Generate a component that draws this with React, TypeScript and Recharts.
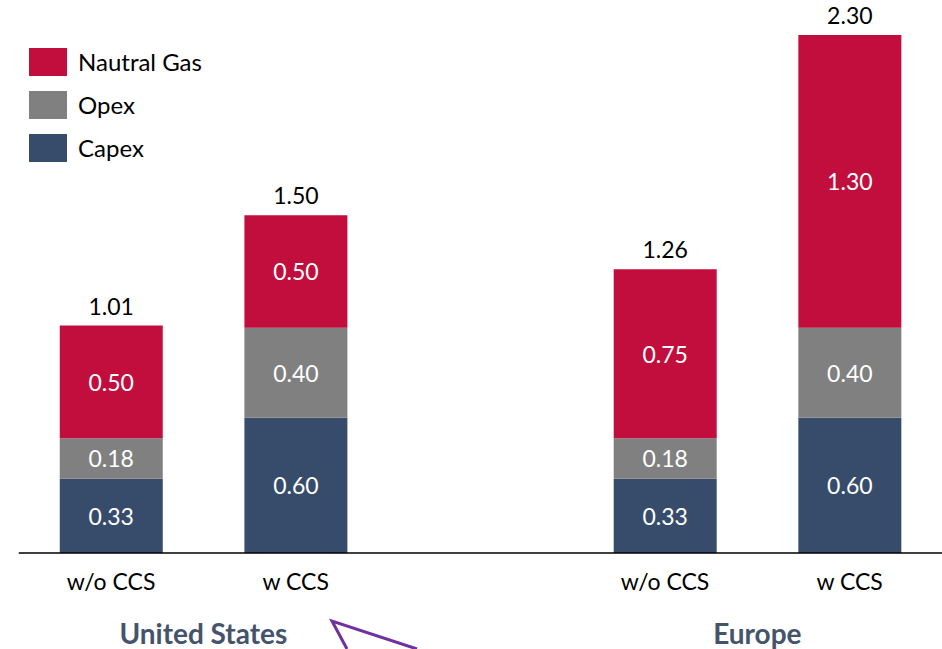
import React from 'react'
import {
  Bar,
  BarChart,
  LabelList,
  XAxis,
  YAxis,
} from 'recharts'

// Scenario labels (empty slot keeps the gap between the two regions)
const scenarios = ['w/o CCS', 'w CCS', '', 'w/o CCS', 'w CCS']
const regions = ['United States', 'United States', '', 'Europe', 'Europe']
const capex = [0.33, 0.6, null, 0.33, 0.6]
const opex = [0.18, 0.4, null, 0.18, 0.4]
const gas = [0.5, 0.5, null, 0.75, 1.3]
const totals = [1.01, 1.5, null, 1.26, 2.3]

const COLORS = {
  gas: '#C20E3D',
  opex: '#808080',
  capex: '#374C6B',
  group: '#44546A',
}

const FONT = 'Lato, "Open Sans", sans-serif'

const data = scenarios.map((s, i) => ({
  name: s,
  capex: capex[i],
  opex: opex[i],
  gas: gas[i],
  total: totals[i],
}))

const InsideLabel = (props: any) => {
  const { x, y, width, height, value } = props
  if (value == null) return null
  return (
    <text
      x={x + width / 2}
      y={y + height / 2}
      textAnchor="middle"
      dominantBaseline="central"
      fill="#fff"
      fontSize={23}
      fontFamily={FONT}
    >
      {Number(value).toFixed(2)}
    </text>
  )
}

const TotalLabel = (props: any) => {
  const { x, y, width, value } = props
  if (value == null) return null
  return (
    <text
      x={x + width / 2}
      y={y - 20}
      textAnchor="middle"
      dominantBaseline="central"
      fill="#000"
      fontSize={23}
      fontFamily={FONT}
    >
      {Number(value).toFixed(2)}
    </text>
  )
}

// scenario label + region label centred under each region's bars
const ScenarioTick = (props: any) => {
  const { x, y, payload, index, width } = props
  const slot = payload.offset ? payload.offset * 2 : width / scenarios.length
  const region = regions[index]
  const isFirst = region && regions.indexOf(region) === index
  const count = regions.filter((r) => r === region).length
  return (
    <g>
      <text x={x} y={y + 35} textAnchor="middle" fill="#000" fontSize={23} fontFamily={FONT}>
        {payload.value}
      </text>
      {isFirst && (
        <text
          x={x + ((count - 1) * slot) / 2}
          y={y + 89}
          textAnchor="middle"
          fill={COLORS.group}
          fontSize={28}
          fontWeight="bold"
          fontFamily={FONT}
        >
          {region}
        </text>
      )}
    </g>
  )
}

const legendItems = [
  { label: 'Nautral Gas', color: COLORS.gas },
  { label: 'Opex', color: COLORS.opex },
  { label: 'Capex', color: COLORS.capex },
]

export default function App() {
  return (
    <div style={{ position: 'absolute', left: 0, top: 0, width: 942, height: 649, background: '#fff' }}>
      <BarChart
        width={942}
        height={649}
        data={data}
        margin={{ top: 35, right: 0, left: 18.75, bottom: 0 }}
        barCategoryGap={0}
      >
        <XAxis
          dataKey="name"
          axisLine={{ stroke: '#000', strokeWidth: 1.5 }}
          tickLine={false}
          tickSize={0}
          tick={<ScenarioTick />}
          interval={0}
          height={96}
        />
        <YAxis hide type="number" domain={[0, 2.3]} allowDataOverflow={true} />
        <Bar dataKey="capex" stackId="a" fill={COLORS.capex} barSize={103} isAnimationActive={false}>
          <LabelList dataKey="capex" content={<InsideLabel />} />
        </Bar>
        <Bar dataKey="opex" stackId="a" fill={COLORS.opex} barSize={103} isAnimationActive={false}>
          <LabelList dataKey="opex" content={<InsideLabel />} />
        </Bar>
        <Bar dataKey="gas" stackId="a" fill={COLORS.gas} barSize={103} isAnimationActive={false}>
          <LabelList dataKey="gas" content={<InsideLabel />} />
          <LabelList dataKey="total" content={<TotalLabel />} />
        </Bar>
      </BarChart>
      <div
        style={{
          position: 'absolute',
          top: 40,
          left: 29,
          fontFamily: FONT,
          fontSize: 24,
          color: '#000',
        }}
      >
        {legendItems.map((it) => (
          <div key={it.label} style={{ display: 'flex', alignItems: 'center', height: 43 }}>
            <div style={{ width: 38, height: 28, background: it.color, marginRight: 11 }} />
            <span>{it.label}</span>
          </div>
        ))}
      </div>
      <svg
        width={942}
        height={649}
        style={{ position: 'absolute', left: 0, top: 0, pointerEvents: 'none' }}
      >
        <polyline
          points="347,649 332,621 417,649"
          fill="none"
          stroke="#7030A0"
          strokeWidth={3}
          strokeLinejoin="miter"
        />
      </svg>
    </div>
  )
}
